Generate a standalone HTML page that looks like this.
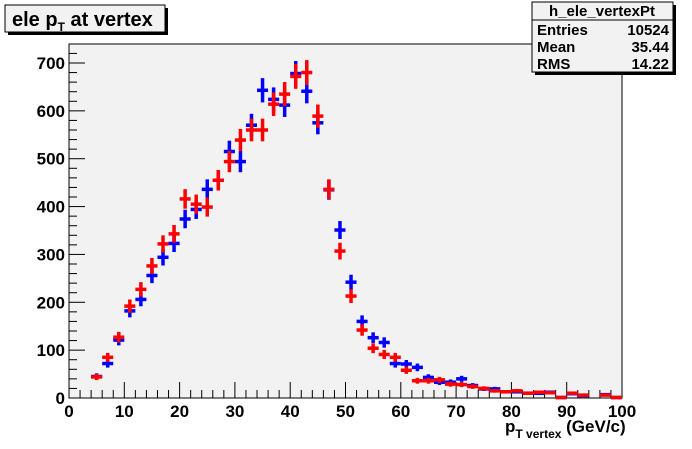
<!DOCTYPE html>
<html><head><meta charset="utf-8">
<style>
body{margin:0;background:#fff;width:692px;height:444px;overflow:hidden;font-family:"Liberation Sans",Arial,sans-serif}
svg text{font-family:"Liberation Sans",Arial,sans-serif;font-weight:bold}
</style></head>
<body>
<svg id="chart" width="692" height="444" viewBox="0 0 692 444" xmlns="http://www.w3.org/2000/svg">
<rect x="0" y="0" width="692" height="444" fill="#fff"/>
<rect x="69" y="44" width="553" height="354" fill="#f2f2f2" stroke="#000" stroke-width="1"/>
<g id="axes"></g>
<g id="marks"></g>
<g>
<rect x="8" y="8" width="160" height="27" fill="#000"/>
<rect x="5" y="5" width="160" height="27" fill="#f2f2f2" stroke="#000" stroke-width="1"/>
<text x="12" y="26" font-size="20">ele p<tspan font-size="12" dy="5">T</tspan><tspan dy="-5"> at vertex</tspan></text>
</g>
<g>
<rect x="535" y="5" width="141" height="70" fill="#000"/>
<rect x="532" y="2" width="141" height="70" fill="#f2f2f2" stroke="#000" stroke-width="1"/>
<line x1="532" y1="20" x2="673" y2="20" stroke="#000"/>
<text x="602" y="16" font-size="15" text-anchor="middle">h_ele_vertexPt</text>
<text x="537" y="35" font-size="15">Entries</text><text x="669" y="35" font-size="15" text-anchor="end">10524</text>
<text x="537" y="52" font-size="15">Mean</text><text x="669" y="52" font-size="15" text-anchor="end">35.44</text>
<text x="537" y="69" font-size="15">RMS</text><text x="669" y="69" font-size="15" text-anchor="end">14.22</text>
</g>
<text x="505" y="432" font-size="17">p<tspan font-size="12" dy="6">T vertex</tspan><tspan dy="-6"> (GeV/c)</tspan></text>
</svg>
<script>
const binCenters=[1,3,5,7,9,11,13,15,17,19,21,23,25,27,29,31,33,35,37,39,41,43,45,47,49,51,53,55,57,59,61,63,65,67,69,71,73,75,77,79,81,83,85,87,89,91,93,95,97,99];
const blueValues=[0,0,45,72,121,182,206,256,294,323,374,394,436,455,515,494,570,643,624,612,678,641,575,435,351,242,160,126,116,72,71,64,43,33,33,40,26,19,19,13,13,10,10,12,1,9,5,0,7,1];
const redValues=[0,0,44,85,127,192,227,276,322,343,416,405,399,455,494,539,560,560,614,635,672,680,589,436,307,213,142,104,91,85,58,36,36,38,29,28,24,20,15,13,15,10,12,11,1,10,6,0,6,1];
const xTicks=[0,10,20,30,40,50,60,70,80,90,100];
const yTicks=[0,100,200,300,400,500,600,700];
const binWidth=2;
const NS='http://www.w3.org/2000/svg';
const X0=69,X1=622,Y0=398,Y700=63;
const xs=v=>X0+(v/100)*(X1-X0);
const ys=v=>Y0-(v/700)*(Y0-Y700);
function mk(tag,attrs,parent){const e=document.createElementNS(NS,tag);for(const k in attrs)e.setAttribute(k,attrs[k]);parent.appendChild(e);return e;}
const axes=document.getElementById('axes');
const marks=document.getElementById('marks');
for(let v=0;v<=100;v+=2){
  const major=v%10===0;
  const t=mk('line',{x1:xs(v),x2:xs(v),y1:Y0,y2:Y0-(major?16:8),stroke:'#000','stroke-width':1},axes);
  
  
}
xTicks.forEach(v=>{
  const t=mk('text',{x:xs(v),y:Y0+19,'font-size':17,'text-anchor':'middle'},axes);
  t.textContent=v;
  
  
});
for(let v=0;v<=740;v+=20){
  if(ys(v)<44)break;
  const major=v%100===0;
  const t=mk('line',{x1:X0,x2:X0+(major?16:8),y1:ys(v),y2:ys(v),stroke:'#000','stroke-width':1},axes);
  
  
}
yTicks.forEach(v=>{
  const t=mk('text',{x:X0-4,y:ys(v)+6,'font-size':17,'text-anchor':'end'},axes);
  t.textContent=v;
  
  
});
function drawSeries(vals,color,name){
  const g=mk('g',{},marks);
  
  
  vals.forEach((v,i)=>{
    if(v<=0)return;
    const c=binCenters[i];
    const e=Math.sqrt(v);
    const p=mk('g',{},g);
    
    
    mk('line',{x1:xs(c-binWidth/2),x2:xs(c+binWidth/2),y1:ys(v),y2:ys(v),stroke:color,'stroke-width':3.5},p);
    mk('line',{x1:xs(c),x2:xs(c),y1:Math.max(ys(v+e),44),y2:Math.min(ys(v-e),Y0),stroke:color,'stroke-width':3.5},p);
  });
}
drawSeries(blueValues,'#0000ff','blue-series');
drawSeries(redValues,'#ff0000','red-series');
</script>
</body></html>
